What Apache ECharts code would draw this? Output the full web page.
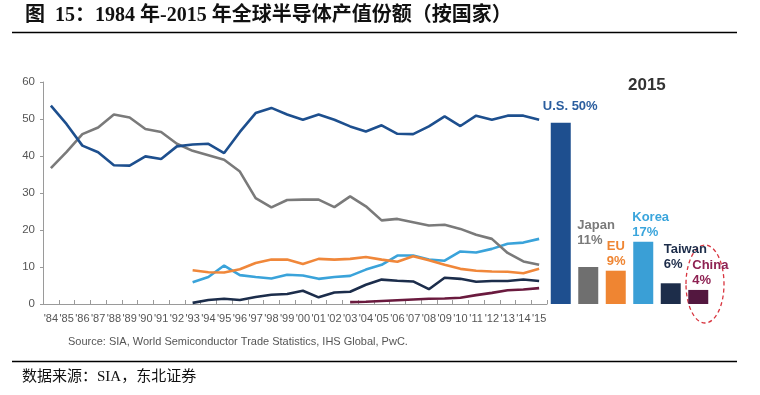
<!DOCTYPE html>
<html><head><meta charset="utf-8">
<script src="https://cdn.jsdelivr.net/npm/echarts@6/dist/echarts.min.js"></script>
<style>html,body{margin:0;padding:0;background:#fff}#c{width:760px;height:395px}</style>
</head><body><div id="c"></div>
<script>
const years = ["'84","'85","'86","'87","'88","'89","'90","'91","'92","'93","'94","'95","'96","'97","'98","'99","'00","'01","'02","'03","'04","'05","'06","'07","'08","'09","'10","'11","'12","'13","'14","'15"];
const usShare = [53.6,48.6,42.8,41.0,37.5,37.4,39.9,39.2,42.6,43.1,43.3,40.8,46.5,51.6,53.0,51.2,49.8,51.2,49.8,48.0,46.6,48.3,46.0,45.9,48.0,50.7,48.1,50.9,49.8,50.9,50.9,49.8];
const japanShare = [36.7,41.1,45.9,47.7,51.2,50.4,47.3,46.5,43.3,41.4,40.2,39.0,35.8,28.6,26.1,28.1,28.2,28.2,26.2,29.1,26.4,22.6,23.0,22.1,21.2,21.4,20.3,18.7,17.6,13.8,11.5,10.6];
const euShare = [null,null,null,null,null,null,null,null,null,9.1,8.6,8.5,9.4,11.1,12.0,12.0,10.8,12.2,12.0,12.2,12.7,12.0,11.4,12.9,11.8,10.6,9.5,9.0,8.8,8.7,8.3,9.5];
const koreaShare = [null,null,null,null,null,null,null,null,null,5.9,7.3,10.4,7.8,7.3,6.9,7.9,7.7,6.8,7.3,7.6,9.3,10.6,13.1,13.1,12.0,11.7,14.2,13.9,14.9,16.3,16.6,17.6];
const taiwanShare = [null,null,null,null,null,null,null,null,null,0.3,1.1,1.4,1.1,1.9,2.5,2.7,3.6,1.8,3.1,3.3,5.2,6.6,6.3,6.1,4.0,7.1,6.8,6.0,6.2,6.2,6.6,6.2];
const chinaShare = [null,null,null,null,null,null,null,null,null,null,null,null,null,null,null,null,null,null,null,0.5,0.6,0.8,1.0,1.2,1.4,1.5,1.7,2.4,3.0,3.7,3.9,4.3];
const regions2015 = ["U.S.","Japan","EU","Korea","Taiwan","China"];
const share2015 = [49, 10, 9, 16.8, 5.6, 3.8];
const share2015Labels = ["50%","11%","9%","17%","6%","4%"];
const yTicks = [0,10,20,30,40,50,60];

const lineColors = ['#1d4f8e','#7a7a7a','#f0873a','#3aa3da','#1c2d4b','#6a1a3e'];
const barColors = ['#1e4f8f','#6f6f6f','#ef8532','#3a9fd6','#1d2d4a','#53173f'];
const labelColors = ['#2a5d9e','#7a7a7a','#ef8532','#3aa5dc','#1d2d4a','#8e2152'];

const chart = echarts.init(document.getElementById('c'), null, {renderer:'canvas'});
const lineData = [usShare, japanShare, euShare, koreaShare, taiwanShare, chinaShare];
const lineSeries = lineData.map((d,i)=>({
  type:'line', data:d, xAxisIndex:0, yAxisIndex:0, symbol:'none', smooth:false,
  lineStyle:{width:2.6,color:lineColors[i]}, z: 10-i, connectNulls:false
}));
// label placement offsets relative to bar top-left (left-aligned above bar)
const labelPos = [[-8,-8.5],[-1,-19],[1,-1.5],[-1,-1.5],[3,-11],[4,-1.7]];
const barData = share2015.map((v,i)=>({
  value:v,
  itemStyle:{color:barColors[i]},
  label:{
    show:true,
    formatter: i===0 ? regions2015[i]+' '+share2015Labels[i] : regions2015[i]+'\n'+share2015Labels[i],
    position:[labelPos[i][0], labelPos[i][1]],
    align:'left', verticalAlign:'bottom',
    color:labelColors[i], fontSize:13, fontWeight:'bold', lineHeight:15,
    fontFamily:'Liberation Sans, Arial, sans-serif'
  }
}));

chart.setOption({
  animation:false,
  grid:[
    {left:43, right:213, top:82, bottom:91, containLabel:false},
    {left:547, width:165, top:82, bottom:91, containLabel:false}
  ],
  xAxis:[
    {type:'category', gridIndex:0, data:years, boundaryGap:true,
     axisLine:{lineStyle:{color:'#9a9a9a',width:1}},
     axisTick:{show:true, inside:true, length:4, lineStyle:{color:'#9a9a9a'}},
     axisLabel:{interval:0, color:'#555', fontSize:11, margin:9, fontFamily:'Liberation Sans, Arial, sans-serif'}},
    {type:'category', gridIndex:1, data:regions2015, show:false}
  ],
  yAxis:[
    {type:'value', gridIndex:0, min:0, max:60, interval:10,
     axisLine:{show:true, lineStyle:{color:'#9a9a9a'}},
     axisTick:{show:true, length:3, lineStyle:{color:'#9a9a9a'}},
     splitLine:{show:false},
     axisLabel:{color:'#555', fontSize:11.5, margin:8, fontFamily:'Liberation Sans, Arial, sans-serif'}},
    {type:'value', gridIndex:1, min:0, max:60, show:false, splitLine:{show:false}}
  ],
  series:[...lineSeries,
    {type:'bar', xAxisIndex:1, yAxisIndex:1, data:barData, barWidth:20, z:5}
  ],
  graphic:[
    {type:'text', left:25, top:6, style:{text:'图  15：1984 年-2015 年全球半导体产值份额（按国家）', font:'bold 20px "Liberation Serif", "Noto Sans CJK SC", serif', fill:'#111'}},
    {type:'line', shape:{x1:12,y1:32.5,x2:737,y2:32.5}, style:{stroke:'#000', lineWidth:1.5}},
    {type:'text', left:628, top:77, style:{text:'2015', font:'bold 17px "Liberation Sans", Arial, sans-serif', fill:'#333'}},
    {type:'ellipse', shape:{cx:705, cy:284, rx:19, ry:39}, style:{fill:'none', stroke:'#d8353f', lineWidth:1.3, lineDash:[4,3]}},
    {type:'text', left:68, top:336, style:{text:'Source: SIA, World Semiconductor Trade Statistics, IHS Global, PwC.', font:'11px "Liberation Sans", Arial, sans-serif', fill:'#555'}},
    {type:'line', shape:{x1:12,y1:361.5,x2:737,y2:361.5}, style:{stroke:'#000', lineWidth:1.5}},
    {type:'text', left:22, top:370, style:{text:'数据来源：SIA，东北证券', font:'15px "Liberation Serif", "Noto Sans CJK SC", serif', fill:'#111'}}
  ]
});
</script></body></html>
